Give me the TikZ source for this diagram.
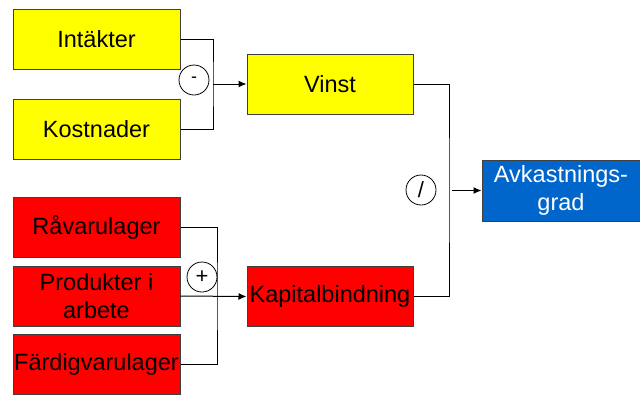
\documentclass[tikz,border=0pt]{standalone}
\usepackage{fontspec}
\setmainfont{Liberation Sans}
\usetikzlibrary{arrows.meta}
\definecolor{boxline}{HTML}{404040}
\definecolor{ayellow}{HTML}{FFFF00}
\definecolor{ared}{HTML}{FF0000}
\definecolor{ablue}{HTML}{0066CC}
\tikzset{
  box/.style={draw=boxline, line width=1pt, rectangle, minimum width=167pt, minimum height=60pt,
    inner sep=0pt, align=center, font=\fontsize{23.5}{26}\selectfont},
  ybox/.style={box, fill=ayellow},
  rbox/.style={box, fill=ared},
  bbox/.style={box, fill=ablue, text=white, minimum width=158pt, minimum height=61pt},
  opcirc/.style={circle, draw, line width=0.8pt, minimum size=30pt, inner sep=0pt, font=\fontsize{22}{24}\selectfont},
  conn/.style={line width=1pt},
  arr/.style={line width=1pt, -{Latex[length=8pt,width=7pt]}}
}
\begin{document}
\begin{tikzpicture}[x=1pt,y=-1pt]
\useasboundingbox (0,0) rectangle (640,394);
\node[ybox] (int) at (96.5,39) {Intäkter};
\node[ybox] (kos) at (96.5,129.5) {Kostnader};
\node[rbox] (rav) at (96.5,227.5) {Råvarulager};
\node[rbox] (pro) at (96.5,296) {Produkter i\\[2pt]arbete};
\node[rbox] (far) at (96.5,364) {Färdigvarulager};
\node[ybox, minimum width=166pt] (vin) at (330,84) {Vinst};
\node[rbox, minimum width=166pt] (kap) at (330,296.5) {Kapitalbindning};
\node[bbox] (avk) at (561,190.5) {Avkastnings-\\[2pt]grad};

\node[opcirc, font=\fontsize{18}{20}\selectfont] (minus) at (194,80) {-};
\node[opcirc] (plus) at (202,277) {+};
\node[opcirc] (div) at (421,190) {/};

\coordinate (mj) at (213,84);
\coordinate (pj) at (217,296.5);
\coordinate (dj) at (452,190.5);

\draw[conn] (int.east) -| (mj) |- (kos.east);
\draw[arr] (mj) -- (vin.west);
\draw[conn] (rav.east) -| (pj) |- (far.east);
\draw[arr] (pro.east) -- (kap.west);
\draw[conn] (vin.east) -| (449,190) |- (kap.east);
\draw[arr] (dj) -- (avk.west);
\end{tikzpicture}
\end{document}
